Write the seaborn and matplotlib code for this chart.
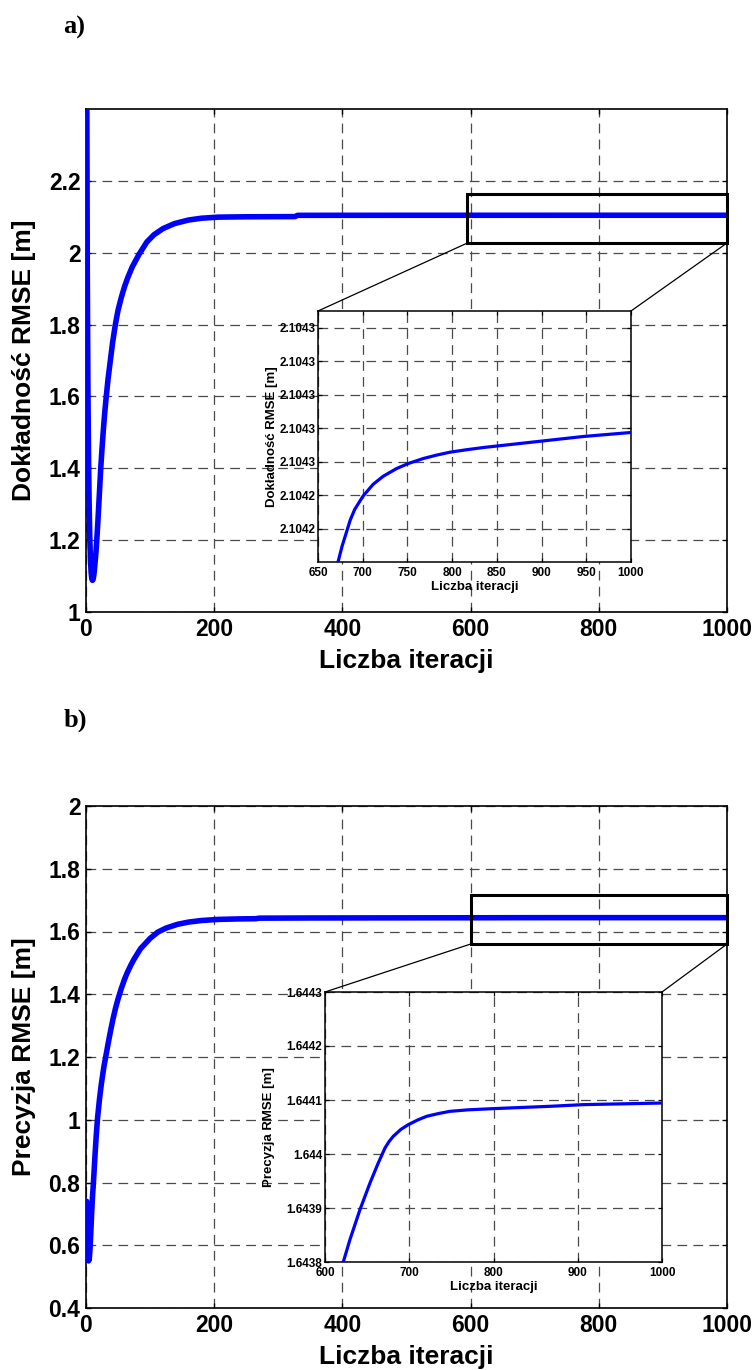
import matplotlib
matplotlib.use("Agg")
import matplotlib.pyplot as plt
import seaborn as sns
from matplotlib.patches import Rectangle, ConnectionPatch

# ---------------- data ----------------
# Panel a) - accuracy RMSE vs iterations (coarse part, 1..660)
a_iter_coarse = [1, 2, 3, 4, 5, 6, 7, 8, 9, 10, 11, 12, 13, 14, 15.5, 16.8, 18.5, 20, 21.5,
                 23, 25, 27, 29, 31.6, 34.5, 38, 41.5, 45.8, 50, 55, 60, 65, 72, 82.6, 95,
                 106, 120, 138, 160, 180, 206, 250, 326, 330, 400, 500, 600, 650, 660]
a_rmse_coarse = [2.62, 1.95, 1.62, 1.42, 1.29, 1.2, 1.145, 1.11, 1.093, 1.088, 1.09, 1.1,
                 1.115, 1.135, 1.165, 1.2, 1.25, 1.3, 1.35, 1.4, 1.455, 1.505, 1.55, 1.6,
                 1.65, 1.7, 1.75, 1.8, 1.84, 1.875, 1.905, 1.93, 1.96, 1.995, 2.03, 2.05,
                 2.067, 2.081, 2.091, 2.096, 2.099, 2.1, 2.1005, 2.1040, 2.10412, 2.10418,
                 2.104205, 2.104214, 2.1042175]
# Panel a) - fine part (visible in inset)
a_iter_fine = [672.4, 677, 681.7, 686, 691.0, 700.4, 711.6, 722.8, 737.7, 750.7, 767.5,
               782, 797.4, 815, 834.7, 872.0, 909.3, 946.6, 1000.0]
a_rmse_fine = [2.10422, 2.1042248, 2.1042288, 2.1042325, 2.1042357, 2.1042397, 2.1042432,
               2.1042456, 2.1042479, 2.1042494, 2.1042509, 2.1042519, 2.1042528,
               2.1042535, 2.1042542, 2.1042553, 2.1042564, 2.1042575, 2.1042587]

# Panel b) - precision RMSE vs iterations
b_iter_coarse = [1, 2, 3, 4, 5, 6, 7, 8, 9, 10, 11.6, 14, 16, 18, 21, 24, 28, 31.6, 35, 38,
                 42, 46, 50, 55, 60, 64, 70, 75, 85, 100, 112, 125, 143, 160, 180, 206,
                 240, 265, 270, 350, 450, 550, 600, 610]
b_rmse_coarse = [0.74, 0.64, 0.57, 0.55, 0.555, 0.58, 0.62, 0.665, 0.71, 0.75, 0.8, 0.885,
                 0.95, 1.005, 1.065, 1.115, 1.17, 1.21, 1.248, 1.28, 1.32, 1.355, 1.385,
                 1.418, 1.447, 1.467, 1.493, 1.512, 1.545, 1.578, 1.598, 1.611, 1.623,
                 1.63, 1.635, 1.6385, 1.6402, 1.6408, 1.6425, 1.6431, 1.6434, 1.64365,
                 1.64372, 1.64376]
b_iter_fine = [621.7, 629.6, 641.5, 653.4, 663.2, 671.2, 676, 681.0, 690, 698.8, 710,
               720.6, 735, 748.2, 770, 799.6, 866.8, 906.4, 1000.0]
b_rmse_fine = [1.6438, 1.6438414, 1.6438969, 1.6439463, 1.6439833, 1.6440111, 1.6440230,
               1.6440327, 1.6440455, 1.6440543, 1.6440630, 1.6440698, 1.6440750,
               1.6440790, 1.6440818, 1.6440840, 1.6440883, 1.6440914, 1.6440944]

# axis ticks / labels
main_xticks = [0, 200, 400, 600, 800, 1000]
main_xticklabels = ["0", "200", "400", "600", "800", "1000"]
a_yticks = [1.0, 1.2, 1.4, 1.6, 1.8, 2.0, 2.2]
a_yticklabels = ["1", "1.2", "1.4", "1.6", "1.8", "2", "2.2"]
a_ylim = (1.0, 2.4)
b_yticks = [0.4, 0.6, 0.8, 1.0, 1.2, 1.4, 1.6, 1.8, 2.0]
b_yticklabels = ["0.4", "0.6", "0.8", "1", "1.2", "1.4", "1.6", "1.8", "2"]
b_ylim = (0.4, 2.0)

ins_a_xticks = [650, 700, 750, 800, 850, 900, 950, 1000]
ins_a_xticklabels = ["650", "700", "750", "800", "850", "900", "950", "1000"]
ins_a_yticks = [2.10423, 2.10424, 2.10425, 2.10426, 2.10427, 2.10428, 2.10429]
ins_a_yticklabels = ["2.1042", "2.1042", "2.1043", "2.1043", "2.1043", "2.1043", "2.1043"]
ins_a_xlim = (650, 1000)
ins_a_ylim = (2.10422, 2.104295)

ins_b_xticks = [600, 700, 800, 900, 1000]
ins_b_xticklabels = ["600", "700", "800", "900", "1000"]
ins_b_yticks = [1.6438, 1.6439, 1.6440, 1.6441, 1.6442, 1.6443]
ins_b_yticklabels = ["1.6438", "1.6439", "1.644", "1.6441", "1.6442", "1.6443"]
ins_b_xlim = (600, 1000)
ins_b_ylim = (1.6438, 1.6443)

# zoom windows (data coords): x0, x1, y0, y1
zoom_a = (595, 1000, 2.027, 2.163)
zoom_b = (600, 1000, 1.560, 1.716)

xlabel_txt = "Liczba iteracji"
a_ylabel_txt = "Dokładność RMSE [m]"
b_ylabel_txt = "Precyzja RMSE [m]"

# ---------------- style ----------------
sns.set_theme(style="ticks")
plt.rcParams["font.family"] = ["Liberation Sans", "DejaVu Sans"]
plt.rcParams["lines.scale_dashes"] = False
plt.rcParams["text.color"] = "black"
plt.rcParams["axes.labelcolor"] = "black"
plt.rcParams["xtick.color"] = "black"
plt.rcParams["ytick.color"] = "black"

W, H = 753, 1370
fig = plt.figure(figsize=(W / 100, H / 100), dpi=100)
fig.patch.set_facecolor("white")


def px_box(left, top, right, bottom):
    return [left / W, 1 - bottom / H, (right - left) / W, (bottom - top) / H]


GRID_KW = dict(color="#4a4a4a", linestyle=(0, (7, 4.5)), linewidth=0.9)
BLUE = "#0000ff"


def style_axes(ax, tick_size, tick_len, xpad, ypad, frame_lw):
    ax.set_facecolor("white")
    ax.grid(True, **GRID_KW)
    ax.set_axisbelow(True)
    for sp in ax.spines.values():
        sp.set_visible(True)
        sp.set_color("black")
        sp.set_linewidth(frame_lw)
    ax.tick_params(axis="both", direction="in", top=True, right=True,
                   length=tick_len, width=frame_lw * 0.8, colors="black",
                   labelsize=tick_size)
    ax.tick_params(axis="x", pad=xpad)
    ax.tick_params(axis="y", pad=ypad)
    for lab in ax.get_xticklabels() + ax.get_yticklabels():
        lab.set_fontweight("bold")
        lab.set_color("black")


def main_panel(box, it_c, v_c, it_f, v_f, yticks, yticklabels, ylim, ylabel, zoom):
    ax = fig.add_axes(px_box(*box))
    sns.lineplot(x=list(it_c) + list(it_f), y=list(v_c) + list(v_f), ax=ax,
                 color=BLUE, linewidth=4.0, estimator=None, sort=False, zorder=3)
    ax.set_xlim(0, 1000)
    ax.set_ylim(*ylim)
    ax.set_xticks(main_xticks)
    ax.set_xticklabels(main_xticklabels)
    ax.set_yticks(yticks)
    ax.set_yticklabels(yticklabels)
    style_axes(ax, 16.5, 3.5, 4.5, 4, 1.2)
    ax.set_xlabel(xlabel_txt, fontsize=19, fontweight="bold", color="black")
    ax.set_ylabel(ylabel, fontsize=19, fontweight="bold", color="black")
    height = box[3] - box[1]
    width = box[2] - box[0]
    ax.xaxis.set_label_coords(0.5, -37 / height)
    ax.yaxis.set_label_coords(-50 / width, 0.5)
    x0, x1, y0, y1 = zoom
    ax.add_patch(Rectangle((x0, y0), x1 - x0, y1 - y0, fill=False, edgecolor="black",
                           linewidth=2.2, zorder=6, clip_on=False))
    return ax


def inset_panel(box, it_f, v_f, xticks, xticklabels, yticks, yticklabels, xlim, ylim,
                ylabel, ylab_x, ypad):
    ax = fig.add_axes(px_box(*box), zorder=5)
    sns.lineplot(x=list(it_f), y=list(v_f), ax=ax, color=BLUE, linewidth=2.3,
                 estimator=None, sort=False, zorder=3)
    ax.set_xlim(*xlim)
    ax.set_ylim(*ylim)
    ax.set_xticks(xticks)
    ax.set_xticklabels(xticklabels)
    ax.set_yticks(yticks)
    ax.set_yticklabels(yticklabels)
    style_axes(ax, 8.5, 3, 3.4, ypad, 1.1)
    ax.set_xlabel(xlabel_txt, fontsize=9.5, fontweight="bold", color="black")
    ax.set_ylabel(ylabel, fontsize=9.5, fontweight="bold", color="black")
    height = box[3] - box[1]
    width = box[2] - box[0]
    ax.xaxis.set_label_coords(0.5, -19 / height)
    ax.yaxis.set_label_coords(ylab_x / width, 0.5)
    return ax


# panel a
box_a = (86, 109, 727, 612)
ax_a = main_panel(box_a, a_iter_coarse, a_rmse_coarse, a_iter_fine, a_rmse_fine,
                  a_yticks, a_yticklabels, a_ylim, a_ylabel_txt, zoom_a)
box_ia = (318, 311, 631, 562)
ins_a = inset_panel(box_ia, a_iter_coarse[-3:] + a_iter_fine, a_rmse_coarse[-3:] + a_rmse_fine,
                    ins_a_xticks, ins_a_xticklabels, ins_a_yticks, ins_a_yticklabels,
                    ins_a_xlim, ins_a_ylim, a_ylabel_txt, -40, 1.5)

# panel b
box_b = (86, 806, 727, 1308)
ax_b = main_panel(box_b, b_iter_coarse, b_rmse_coarse, b_iter_fine, b_rmse_fine,
                  b_yticks, b_yticklabels, b_ylim, b_ylabel_txt, zoom_b)
box_ib = (325, 992, 662, 1262)
ins_b = inset_panel(box_ib, b_iter_coarse[-3:] + b_iter_fine, b_rmse_coarse[-3:] + b_rmse_fine,
                    ins_b_xticks, ins_b_xticklabels, ins_b_yticks, ins_b_yticklabels,
                    ins_b_xlim, ins_b_ylim, b_ylabel_txt, -50, 2)

# connector lines from zoom rectangles to insets
for ax, ins, zoom in [(ax_a, ins_a, zoom_a), (ax_b, ins_b, zoom_b)]:
    x0, x1, y0, y1 = zoom
    for xa, xb in [(x0, 0.0), (x1, 1.0)]:
        con = ConnectionPatch(xyA=(xa, y0), coordsA=ax.transData,
                              xyB=(xb, 1.0), coordsB=ins.transAxes,
                              color="black", linewidth=0.9, zorder=4)
        fig.add_artist(con)

# panel letters
fig.text(74 / W, 1 - 27 / H, "a)", fontsize=19, fontweight="bold", color="black",
         family=["Liberation Serif", "DejaVu Serif"], ha="center", va="center")
fig.text(75 / W, 1 - 720 / H, "b)", fontsize=19, fontweight="bold", color="black",
         family=["Liberation Serif", "DejaVu Serif"], ha="center", va="center")

fig.savefig("out.png", dpi=100, facecolor="white")
